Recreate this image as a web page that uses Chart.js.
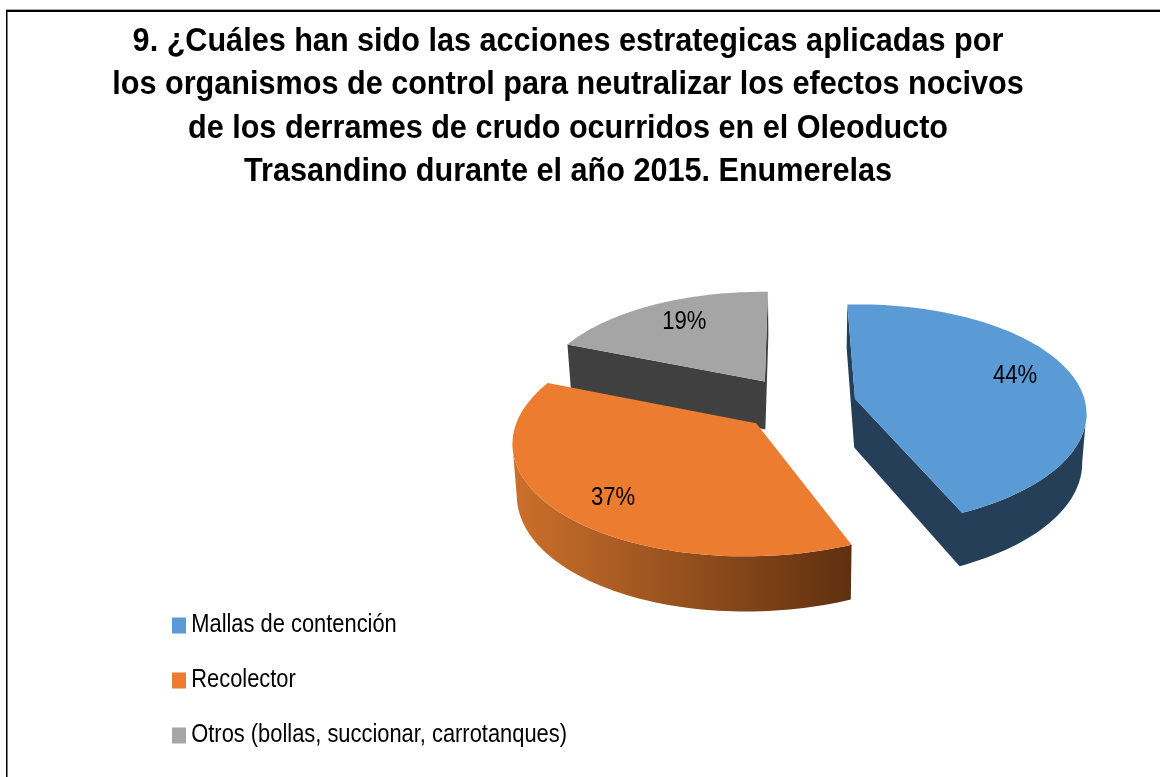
<!DOCTYPE html>
<html><head><meta charset="utf-8">
<style>html,body{margin:0;padding:0;background:#fff}canvas{display:block}</style>
<script src="https://cdn.jsdelivr.net/npm/chart.js@4"></script>
</head><body>
<canvas id="c" width="1160" height="777"></canvas>
<script>
const titleLines = [
  "9. ¿Cuáles han sido las acciones estrategicas aplicadas por",
  "los organismos de control para neutralizar los efectos nocivos",
  "de los derrames de crudo ocurridos en el Oleoducto",
  "Trasandino durante el año 2015. Enumerelas"
];
const categories = ["Mallas de contención", "Recolector", "Otros (bollas, succionar, carrotanques)"];
const values = [44, 37, 19];
const topColors = ["#5b9bd5", "#ec7c30", "#a5a5a5"];
const wallLight = ["#243f57", "#cc702b", "#404040"];
const wallDark  = ["#243f57", "#5f300f", "#404040"];
const explode = [80, 128, 120];           // chart offset option (px/4 at radius 100)
const nudgeX = [-2, -2, -9];
const nudgeY = [1, -7, 4];
const flatten = [1, 0.95, 1];
const narrow = [1, 0.99, 1];
const tilt = [0, 6.3, 6.3];
const labelRadius = [0.75, 0.80, 0.74];
const labelTurn = [-0.055, -0.065, 0.024];
const drawOrder = [2, 0, 1];

// camera that tilts the flat pie plane into the picture
const cam = {cx: 812, cy: 403, a: 231, b: 110, e: -10, p: 0.15, depth: 49, depthY: 5, vx: 800, shrink: 0.985};
const FONT = "'Liberation Sans', Arial, sans-serif";

function camera(X, Y, i) {
  const w = 1 - cam.p * Y;
  return {x: cam.cx + (cam.a * X + cam.e * Y) / w + nudgeX[i], y: cam.cy + cam.b * Y / w + nudgeY[i], Y};
}
function project(X, Y, i, ox, oy) {
  const q = camera(X, Y, i), c = camera(ox, oy, i);
  q.x = c.x + (q.x - c.x) * narrow[i];
  q.y = c.y + (q.y - c.y) * flatten[i] + tilt[i] * (X - ox);
  return q;
}
function lower(pt) {
  return {x: cam.vx + (pt.x - cam.vx) * cam.shrink, y: pt.y + cam.depth + cam.depthY * pt.Y};
}
function sliceOutline(arc, idx) {
  const p = arc.getProps(['startAngle', 'endAngle', 'outerRadius']);
  const R = p.outerRadius, mid = (p.startAngle + p.endAngle) / 2;
  const off = (arc.options.offset || 0) / 4 / R;
  const ox = Math.cos(mid) * off, oy = Math.sin(mid) * off;
  const pts = [project(ox, oy, idx, ox, oy)];
  const n = 90;
  for (let i = 0; i <= n; i++) {
    const t = p.startAngle + (p.endAngle - p.startAngle) * i / n;
    pts.push(project(ox + Math.cos(t), oy + Math.sin(t), idx, ox, oy));
  }
  return {pts, ox, oy, mid};
}
function poly(ctx, pts) {
  ctx.beginPath();
  pts.forEach((q, i) => i ? ctx.lineTo(q.x, q.y) : ctx.moveTo(q.x, q.y));
  ctx.closePath();
}
const piePlugin = {
  id: 'tiltedPie',
  beforeDraw(chart) {
    const ctx = chart.ctx;
    ctx.save();
    ctx.fillStyle = '#000';
    ctx.fillRect(6, 10, 1154, 2);
    ctx.fillRect(6, 10, 1.5, 767);
    ctx.fillStyle = '#aaa';
    ctx.fillRect(6, 9, 1154, 1);
    ctx.restore();
  },
  beforeDatasetDraw(chart, args) {
    const ctx = chart.ctx, arcs = args.meta.data;
    ctx.save();
    drawOrder.forEach(i => {
      const {pts} = sliceOutline(arcs[i], i);
      const xs = pts.map(q => q.x);
      const g = ctx.createLinearGradient(Math.min(...xs), 0, Math.max(...xs), 0);
      g.addColorStop(0, wallLight[i]);
      g.addColorStop(1, wallDark[i]);
      ctx.fillStyle = g;
      const low = pts.map(lower);
      ctx.beginPath();
      for (let k = 0; k < pts.length; k++) {
        const j = (k + 1) % pts.length;
        if (pts[j].x >= pts[k].x) continue;       // only the faces turned to the viewer
        ctx.moveTo(pts[k].x, pts[k].y);
        ctx.lineTo(pts[j].x, pts[j].y);
        ctx.lineTo(low[j].x, low[j].y);
        ctx.lineTo(low[k].x, low[k].y);
        ctx.closePath();
      }
      ctx.fill();
      ctx.fillStyle = topColors[i];
      poly(ctx, pts);
      ctx.fill();
    });
    ctx.restore();
    return false;
  },
  afterDatasetsDraw(chart) {
    const ctx = chart.ctx, arcs = chart.getDatasetMeta(0).data;
    ctx.save();
    ctx.fillStyle = '#000';
    ctx.font = "26px " + FONT;
    ctx.textAlign = 'center';
    ctx.textBaseline = 'middle';
    arcs.forEach((arc, i) => {
      const s = sliceOutline(arc, i), t = s.mid + labelTurn[i];
      const q = project(s.ox + Math.cos(t) * labelRadius[i], s.oy + Math.sin(t) * labelRadius[i], i, s.ox, s.oy);
      ctx.save();
      ctx.translate(q.x, q.y);
      ctx.scale(0.85, 1);
      ctx.fillText(values[i] + '%', 0, 0);
      ctx.restore();
    });
    ctx.restore();
  },
  afterLayout(chart) {
    const ctx = chart.ctx;
    if (chart.$wrapped) return;
    chart.$wrapped = true;
    const t = chart.titleBlock, td = t.draw;
    t.draw = function () {
      const c = (t.left + t.right) / 2;
      ctx.save();
      ctx.translate(568, 0); ctx.scale(0.90, 1); ctx.translate(-c, 0);
      td.call(t);
      ctx.restore();
    };
    const l = chart.legend, ld = l.draw;
    l.draw = function () {
      const k = 0.875, pad = l.options.labels.padding;
      ctx.save();
      ctx.translate(172 - (l.left + pad) * k, 1);
      ctx.scale(k, 1);
      const ft = ctx.fillText;
      ctx.fillText = function (s, x, y, m) { ft.call(this, s, x - 6.5, y, m); };
      ld.call(l);
      delete ctx.fillText;
      ctx.restore();
    };
  }
};
new Chart(document.getElementById('c'), {
  type: 'pie',
  plugins: [piePlugin],
  data: {
    labels: categories,
    datasets: [{
      data: values,
      backgroundColor: topColors,
      borderWidth: 0,
      offset: explode,
      radius: 100,
      rotation: -3,
      clip: false
    }]
  },
  options: {
    responsive: false,
    animation: false,
    layout: {padding: 0},
    plugins: {
      tooltip: {enabled: false},
      title: {
        display: true,
        text: titleLines,
        color: '#000',
        font: {family: FONT, size: 34, weight: 'bold', lineHeight: 43.3 / 34},
        padding: {top: 20, bottom: 10}
      },
      legend: {
        position: 'left',
        align: 'end',
        labels: {
          color: '#000',
          boxWidth: 16,
          boxHeight: 16,
          padding: 30,
          font: {family: FONT, size: 25}
        }
      }
    }
  }
});
</script>
</body></html>
